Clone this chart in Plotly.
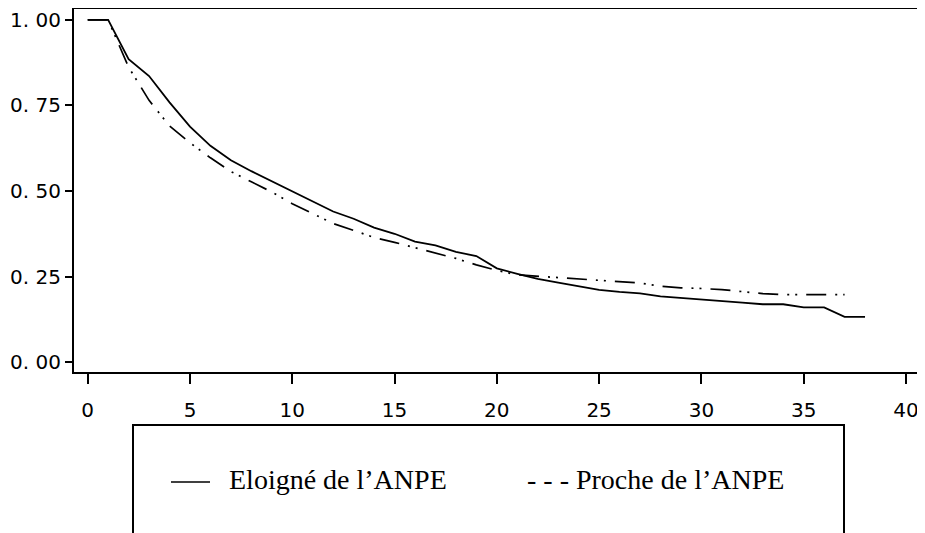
import plotly.graph_objects as go

# ---- data ----
t_eloigne = list(range(0, 39))
eloigne = [1.0, 1.0, 0.885, 0.836, 0.759, 0.688, 0.632, 0.59, 0.558, 0.528,
           0.499, 0.468, 0.44, 0.419, 0.393, 0.375, 0.352, 0.341, 0.322, 0.31,
           0.274, 0.258, 0.243, 0.232, 0.222, 0.211, 0.205, 0.201, 0.192, 0.188,
           0.183, 0.178, 0.174, 0.169, 0.169, 0.160, 0.160, 0.132, 0.132]

t_proche = list(range(0, 38))
proche = [1.0, 1.0, 0.862, 0.765, 0.69, 0.641, 0.597, 0.557, 0.527, 0.497,
          0.463, 0.433, 0.405, 0.385, 0.364, 0.35, 0.335, 0.318, 0.303, 0.284,
          0.268, 0.255, 0.251, 0.247, 0.242, 0.237, 0.234, 0.231, 0.222, 0.217,
          0.215, 0.212, 0.206, 0.200, 0.197, 0.197, 0.197, 0.197]

x_ticks = [0, 5, 10, 15, 20, 25, 30, 35, 40]
y_ticks = [0.0, 0.25, 0.5, 0.75, 1.0]
y_tick_labels = ["0. 00", "0. 25", "0. 50", "0. 75", "1. 00"]

label_eloigne = "Eloigné de l’ANPE"
label_proche = "- - - Proche de l’ANPE"

# ---- layout geometry (page pixels; the page body has an 8px margin) ----
OFF = 8
W, H = 925 - OFF, 533 - OFF
P_LEFT, P_RIGHT, P_TOP, P_BOTTOM = 74, 917, 9, 372   # plot area in page px
ML = P_LEFT - OFF
MR = W - (P_RIGHT - OFF)
MT = P_TOP - OFF
MB = H - (P_BOTTOM - OFF)
PW = W - ML - MR
PH = H - MT - MB


def px_x(px):
    return (px - OFF - ML) / PW


def px_y(py):
    return (H - MB - (py - OFF)) / PH


fig = go.Figure()
fig.add_trace(go.Scatter(x=t_eloigne, y=eloigne, mode="lines",
                         line=dict(color="black", width=1.8),
                         name=label_eloigne, showlegend=False))
fig.add_trace(go.Scatter(x=t_proche, y=proche, mode="lines",
                         line=dict(color="black", width=1.7,
                                   dash="20px,9px,2px,6px,2px,9px"),
                         name="Proche de l’ANPE", showlegend=False))

tick_font = dict(family="DejaVu Sans", size=20, color="black")

fig.update_xaxes(range=[-0.67, 40.54], tickvals=x_ticks, automargin=False,
                 showgrid=False, zeroline=False, ticklabeloverflow="allow",
                 showline=True, linecolor="black", linewidth=2, mirror=True,
                 ticks="outside", ticklen=10, tickwidth=1.5, tickcolor="black",
                 tickfont=tick_font, ticklabelstandoff=9)
fig.update_yaxes(range=[-0.029, 1.032], tickvals=y_ticks, ticktext=y_tick_labels,
                 automargin=False, showgrid=False, zeroline=False,
                 ticklabeloverflow="allow",
                 showline=True, linecolor="black", linewidth=2, mirror=True,
                 ticks="outside", ticklen=7, tickwidth=1.5, tickcolor="black",
                 tickfont=tick_font)

shapes = [
    dict(type="rect", xref="paper", yref="paper",
         x0=px_x(133), x1=px_x(844), y0=px_y(425), y1=px_y(620),
         line=dict(color="black", width=2), fillcolor="rgba(0,0,0,0)"),
    dict(type="line", xref="paper", yref="paper",
         x0=px_x(171), x1=px_x(210), y0=px_y(482), y1=px_y(482),
         line=dict(color="black", width=1.5)),
]

legend_font = dict(family="Liberation Serif", size=28, color="black")
annotations = [
    dict(text=label_eloigne, xref="paper", yref="paper",
         x=px_x(227), y=px_y(480), xanchor="left", yanchor="middle",
         showarrow=False, font=legend_font),
    dict(text=label_proche, xref="paper", yref="paper",
         x=px_x(525), y=px_y(480), xanchor="left", yanchor="middle",
         showarrow=False, font=legend_font),
]

fig.update_layout(width=W, height=H, template="none",
                  margin=dict(l=ML, r=MR, t=MT, b=MB, pad=0),
                  paper_bgcolor="white", plot_bgcolor="white",
                  shapes=shapes, annotations=annotations, showlegend=False)

fig.write_html("out.html")
